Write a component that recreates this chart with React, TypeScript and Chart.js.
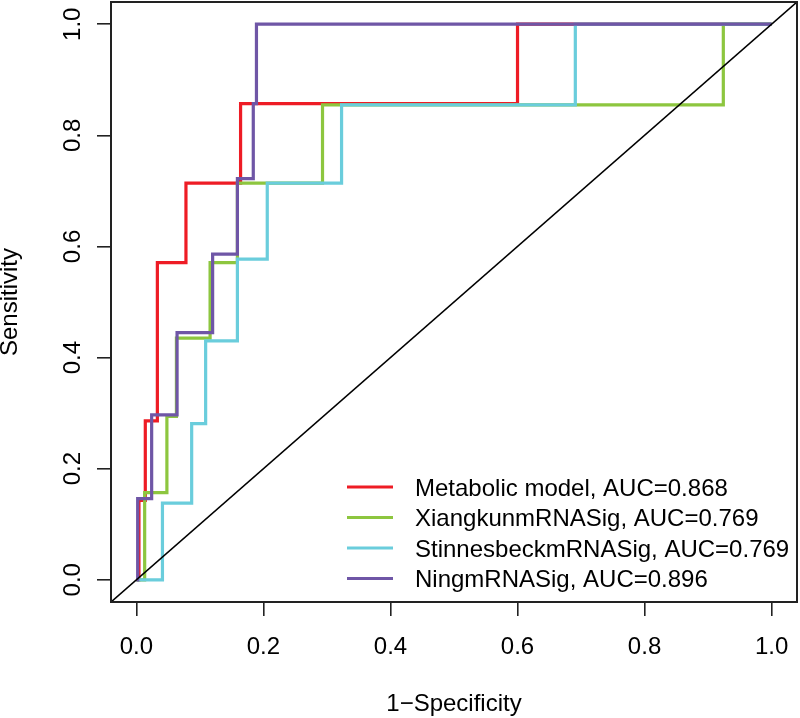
import React, { useEffect, useRef } from "react";
import { Chart, registerables } from "chart.js";

Chart.register(...registerables);

// ---------- data ----------
const seriesNames = ["Metabolic model", "XiangkunmRNASig", "StinnesbeckmRNASig", "NingmRNASig"];
const aucValues = ["0.868", "0.769", "0.769", "0.896"];
const seriesColors = ["#EE1C25", "#8DC63F", "#6ACDDC", "#6F56A6"];

const metabolicFpr = [0, 0.004, 0.004, 0.014, 0.014, 0.033, 0.033, 0.078, 0.078, 0.164, 0.164, 0.6, 0.6, 1];
const metabolicTpr = [0, 0, 0.143, 0.143, 0.286, 0.286, 0.571, 0.571, 0.714, 0.714, 0.857, 0.857, 1, 1];

const xiangkunFpr = [0, 0.013, 0.013, 0.048, 0.048, 0.063, 0.063, 0.116, 0.116, 0.159, 0.159, 0.293, 0.293, 0.924, 0.924, 1];
const xiangkunTpr = [0, 0, 0.157, 0.157, 0.294, 0.294, 0.435, 0.435, 0.571, 0.571, 0.714, 0.714, 0.855, 0.855, 1, 1];

const stinnesbeckFpr = [0, 0.041, 0.041, 0.087, 0.087, 0.109, 0.109, 0.159, 0.159, 0.206, 0.206, 0.323, 0.323, 0.691, 0.691, 1];
const stinnesbeckTpr = [0, 0, 0.138, 0.138, 0.281, 0.281, 0.43, 0.43, 0.577, 0.577, 0.714, 0.714, 0.855, 0.855, 1, 1];

const ningFpr = [0, 0.002, 0.002, 0.024, 0.024, 0.064, 0.064, 0.12, 0.12, 0.159, 0.159, 0.184, 0.184, 0.189, 0.189, 1];
const ningTpr = [0, 0, 0.146, 0.146, 0.297, 0.297, 0.445, 0.445, 0.586, 0.586, 0.722, 0.722, 0.857, 0.857, 1, 1];

const axisMin = -0.04;
const axisMax = 1.04;
const tickValues = [0, 0.2, 0.4, 0.6, 0.8, 1.0];
const xTitle = "1\u2212Specificity";
const yTitle = "Sensitivity";

// ---------- helpers ----------
const FONT_FAMILY = "'Liberation Sans', Arial, Helvetica, sans-serif";
const toPoints = (xs: number[], ys: number[]) => xs.map((x, i) => ({ x, y: ys[i] }));

const seriesFpr = [metabolicFpr, xiangkunFpr, stinnesbeckFpr, ningFpr];
const seriesTpr = [metabolicTpr, xiangkunTpr, stinnesbeckTpr, ningTpr];

const rPlugin = {
  id: "rStyleBoxLegend",
  afterDraw(chart: any) {
    const { ctx, chartArea: a } = chart;
    ctx.save();
    ctx.strokeStyle = "#222";
    ctx.lineWidth = 2;
    ctx.strokeRect(a.left, a.top, a.right - a.left, a.bottom - a.top);

    // legend (bottom-right, no box)
    ctx.font = `24px ${FONT_FAMILY}`;
    ctx.textBaseline = "alphabetic";
    ctx.textAlign = "left";
    const rowGap = 30.5;
    const lastRowY = a.bottom - 23.5;
    const lineStart = a.left + 236;
    const lineEnd = lineStart + 46;
    const textX = lineEnd + 22;
    const n = seriesNames.length;
    for (let i = 0; i < n; i++) {
      const y = lastRowY - (n - 1 - i) * rowGap;
      ctx.strokeStyle = seriesColors[i];
      ctx.lineWidth = 3;
      ctx.beginPath();
      ctx.moveTo(lineStart, y);
      ctx.lineTo(lineEnd, y);
      ctx.stroke();
      ctx.fillStyle = "#000";
      ctx.fillText(`${seriesNames[i]}, AUC=${aucValues[i]}`, textX, y + 8.5);
    }
    ctx.restore();
  },
};

export default function App() {
  const canvasRef = useRef<HTMLCanvasElement | null>(null);

  useEffect(() => {
    if (!canvasRef.current) return;

    const curveDatasets = seriesNames.map((name, i) => ({
      label: name,
      data: toPoints(seriesFpr[i], seriesTpr[i]),
      borderColor: seriesColors[i],
      backgroundColor: seriesColors[i],
      borderWidth: 3.2,
      pointRadius: 0,
      fill: false,
      tension: 0,
      borderJoinStyle: "miter" as const,
    }));

    // Chart.js draws the first dataset on top: diagonal, then purple ... red last
    const datasets: any[] = [
      {
        label: "reference",
        data: toPoints([axisMin, axisMax], [axisMin, axisMax]),
        borderColor: "#000",
        borderWidth: 1.6,
        pointRadius: 0,
        fill: false,
      },
      ...curveDatasets.slice().reverse(),
    ];

    const tickFont = { family: FONT_FAMILY, size: 24 };
    const setTicks = (scale: any) => {
      scale.ticks = tickValues.map((v) => ({ value: v }));
    };

    const chart = new Chart(canvasRef.current, {
      type: "line",
      data: { datasets },
      plugins: [rPlugin],
      options: {
        animation: false,
        responsive: false,
        maintainAspectRatio: false,
        layout: { padding: { top: 2, right: 3, left: 0, bottom: 0 } },
        plugins: {
          legend: { display: false },
          tooltip: { enabled: false },
          title: { display: false },
        },
        scales: {
          x: {
            type: "linear",
            min: axisMin,
            max: axisMax,
            afterBuildTicks: setTicks,
            afterFit: (scale: any) => {
              scale.height = 116;
              scale.paddingLeft = 0;
              scale.paddingRight = 0;
            },
            border: { display: false },
            grid: {
              display: true,
              drawOnChartArea: false,
              drawTicks: true,
              tickLength: 14,
              color: "#222",
              lineWidth: 1.6,
            },
            ticks: {
              autoSkip: false,
              maxRotation: 0,
              minRotation: 0,
              padding: 17,
              color: "#000",
              font: tickFont,
              callback: (v: any) => Number(v).toFixed(1),
            },
            title: {
              display: true,
              text: xTitle,
              color: "#000",
              font: { family: FONT_FAMILY, size: 24, lineHeight: 1.1 },
              padding: 0,
            },
          },
          y: {
            type: "linear",
            min: axisMin,
            max: axisMax,
            afterBuildTicks: setTicks,
            afterFit: (scale: any) => {
              scale.width = 111;
              scale.paddingTop = 0;
              scale.paddingBottom = 0;
            },
            border: { display: false },
            grid: {
              display: true,
              drawOnChartArea: false,
              drawTicks: true,
              tickLength: 14,
              color: "#222",
              lineWidth: 1.6,
            },
            ticks: {
              autoSkip: false,
              minRotation: 90,
              maxRotation: 90,
              crossAlign: "center",
              padding: 7,
              color: "#000",
              font: tickFont,
              callback: (v: any) => Number(v).toFixed(1),
            },
            title: {
              display: true,
              text: yTitle,
              color: "#000",
              font: { family: FONT_FAMILY, size: 24, lineHeight: 0.875 },
              padding: 0,
            },
          },
        },
      },
    } as any);

    return () => chart.destroy();
  }, []);

  return (
    <div style={{ position: "fixed", left: 0, top: 0, width: 800, height: 718, background: "#fff" }}>
      <canvas ref={canvasRef} width={800} height={718} style={{ display: "block", width: 800, height: 718 }} />
    </div>
  );
}
